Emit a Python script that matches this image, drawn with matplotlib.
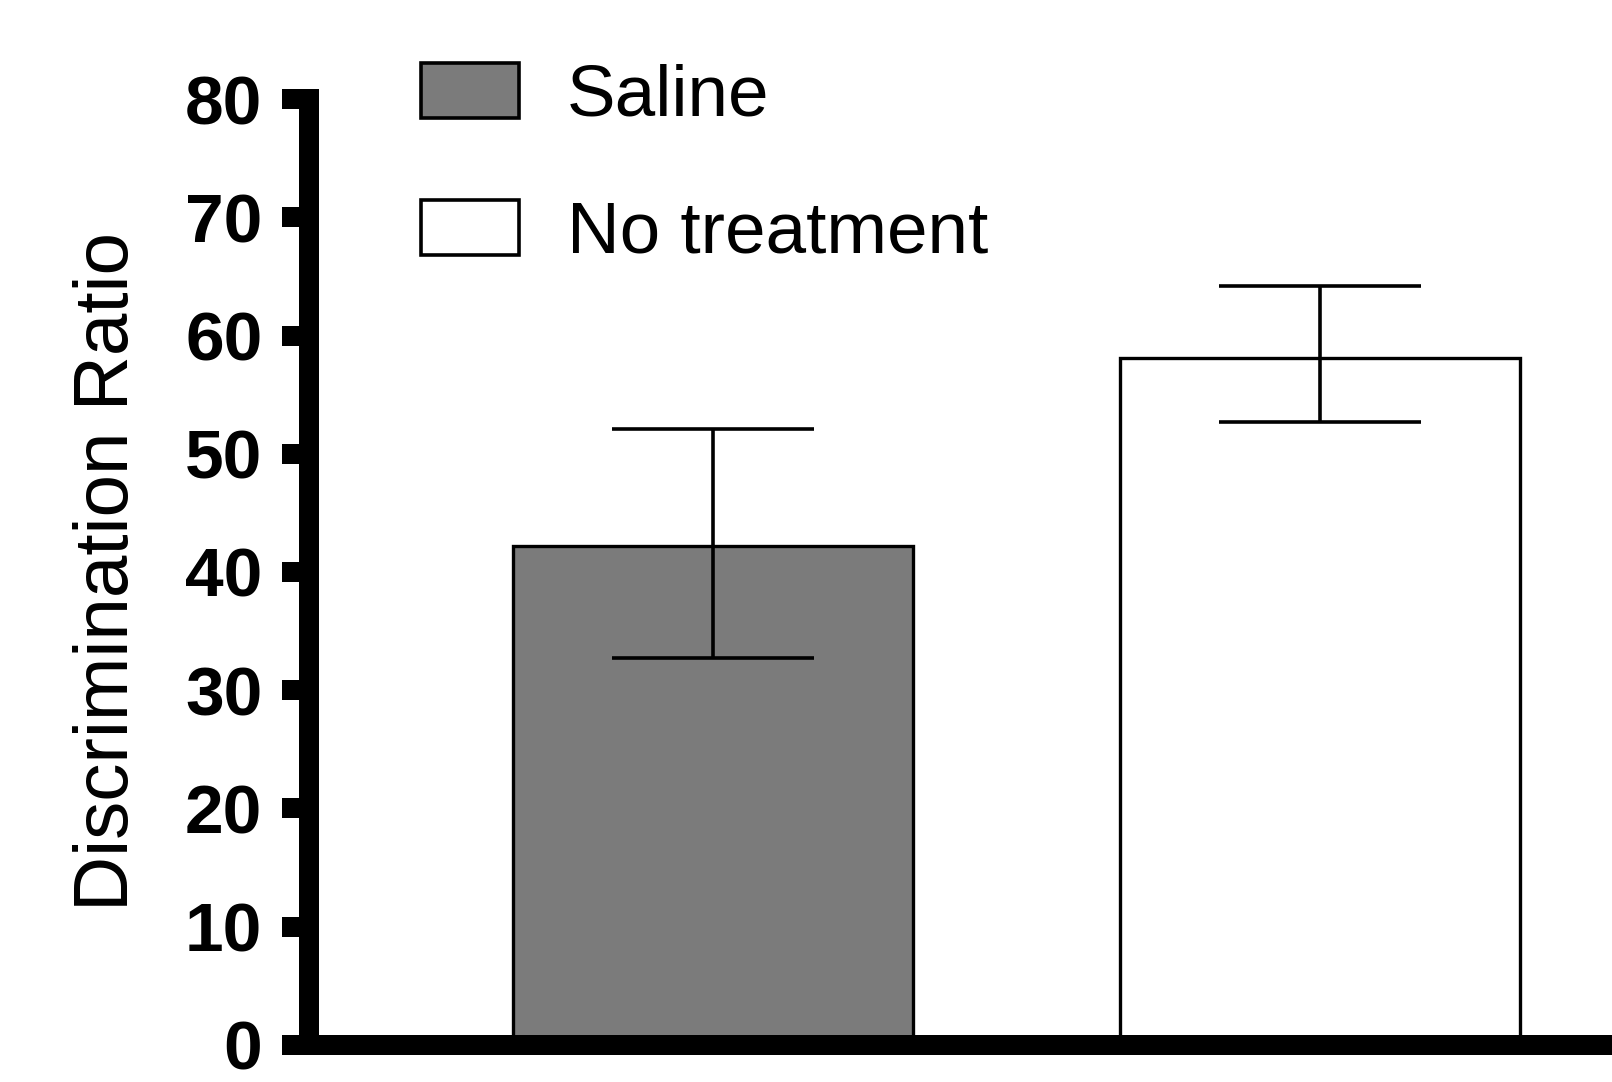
import matplotlib
matplotlib.use("Agg")
import matplotlib.pyplot as plt

# data
groups = ["Saline", "No treatment"]
means = [42.2, 58.1]
err_low = [9.5, 5.4]
err_high = [9.9, 6.1]
colors = ["#7b7b7b", "white"]
yticks = [0, 10, 20, 30, 40, 50, 60, 70, 80]

plt.rcParams["font.family"] = ["Liberation Sans", "DejaVu Sans"]

fig = plt.figure(figsize=(16.12, 10.82), dpi=100)
ax = fig.add_axes([0.1917, 0.0342, 1 - 0.1917, 0.8743])

x = [0, 1]
bars = ax.bar(x, means, width=0.659, color=colors, edgecolor="black",
              linewidth=2.4, zorder=2)
ax.errorbar(x, means, yerr=[err_low, err_high], fmt="none", ecolor="black",
            elinewidth=2.6, capsize=72.5, capthick=2.6, zorder=3)

ax.set_xlim(-0.666, 1.481)
ax.set_ylim(0, 80)
ax.set_yticks(yticks)
ax.set_xticks([])

for s in ["top", "right"]:
    ax.spines[s].set_visible(False)
for s in ["left", "bottom"]:
    ax.spines[s].set_linewidth(14.4)
ax.spines["left"].set_capstyle("projecting")
ax.spines["bottom"].set_capstyle("butt")

ax.tick_params(axis="y", length=19.5, width=14.4, pad=14, labelsize=50)
for lab in ax.get_yticklabels():
    lab.set_fontweight("bold")

ax.set_ylabel("Discrimination Ratio", fontsize=55)
ax.yaxis.set_label_coords(-0.1266, 0.5)

# legend boxes 98x59 px, text starts ~46 px right of them
fs = 52.5
em = fs * 100 / 72
leg = ax.legend(bars, groups, loc="upper left", bbox_to_anchor=(421 / 1612, 1 - 63 / 1082),
                bbox_transform=fig.transFigure, frameon=False, borderpad=0,
                borderaxespad=0, handlelength=98 / em, handleheight=57 / em,
                handletextpad=48 / em, labelspacing=0.95, fontsize=fs)
for p in leg.get_patches():
    p.set_linewidth(2.6)

fig.savefig("out.png", dpi=100)
